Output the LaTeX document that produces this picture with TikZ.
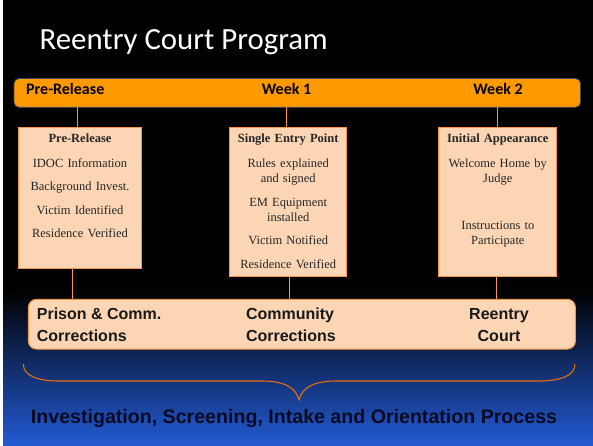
\documentclass[tikz,border=0pt]{standalone}
\usepackage{fontspec}
\setmainfont{Liberation Serif}
\setsansfont{Liberation Sans}
\newfontfamily\calibri{Carlito}
\usepackage{tikz}
\usetikzlibrary{positioning}
\definecolor{barorange}{RGB}{255,153,0}
\definecolor{peach}{RGB}{252,213,180}
\definecolor{edgeorange}{RGB}{247,150,70}
\definecolor{braceorange}{RGB}{228,108,10}
\definecolor{slideblue}{RGB}{35,90,210}
\definecolor{midblue}{RGB}{16,42,110}
\definecolor{barline}{RGB}{60,75,100}
\definecolor{inkblue}{RGB}{10,10,35}

\begin{document}
\begin{tikzpicture}[x=1pt, y=-1pt,
timeline/.style={rectangle, rounded corners=5pt, draw=barline, fill=barorange, line width=0.8pt, minimum width=566.5pt, minimum height=28.8pt, inner sep=0pt},
weeklabel/.style={font=\calibri\bfseries\fontsize{16}{19}\selectfont, text=black, inner sep=0pt},
card/.style={rectangle, draw=edgeorange, fill=peach, line width=1pt, anchor=north, inner xsep=2pt, inner ysep=0pt, align=center, text=black!85, font=\fontsize{12.5}{15}\selectfont},
link/.style={draw=edgeorange, line width=0.9pt},
agency/.style={font=\sffamily\bfseries\fontsize{16}{22.4}\selectfont, text=black!90, inner sep=0pt, anchor=base west, align=left},
brace/.style={draw=braceorange, line width=1.1pt}
]
\useasboundingbox (0,0) rectangle (593,445);

%Slide background
\fill[white] (0,0) rectangle (593,445);
\fill[black] (3,0) rectangle (593,290);
\shade[top color=black, middle color=midblue, bottom color=slideblue] (3,289.5) rectangle (593,445);

\node[anchor=base west, text=white, font=\calibri\fontsize{30.8}{36}\selectfont, inner sep=0pt] (title) at (39.5,49.3) {Reentry Court Program};

%Timeline
\node[timeline] (bar) at (297.3,92.9) {};
\node[weeklabel, anchor=base west] (prerel) at (26,94.5) {Pre-Release};
\node[weeklabel, anchor=base] (week1) at (286.5,94.5) {Week 1};
\node[weeklabel, anchor=base] (week2) at (498,94.5) {Week 2};

%Steps
\node[card, text width=118.4pt, text height=15.5pt, text depth=126.1pt] (pre) at (80,126.7) {\textbf{Pre-Release}\\[9.4pt]
IDOC Information\\[8.5pt] Background Invest.\\[8.5pt] Victim Identified\\[8.5pt] Residence Verified};
\node[card, text width=113.3pt, text height=15.5pt, text depth=133.8pt] (entry) at (288.2,126.7) {\textbf{Single Entry Point}\\[9.4pt]
Rules explained\\and signed\\[9pt] EM Equipment\\installed\\[8.3pt] Victim Notified\\[8.7pt] Residence Verified};
\node[card, text width=114pt, text height=15.5pt, text depth=133.8pt] (court) at (497.8,126.7) {\textbf{Initial Appearance}\\[9.4pt]
Welcome Home by\\Judge\\[32.7pt] Instructions to\\Participate};

%Agencies
\node[rectangle, rounded corners=8pt, draw=edgeorange, fill=peach, line width=1pt, minimum width=547pt, minimum height=49.7pt, inner sep=0pt] (base) at (301.9,324.2) {};
\node[agency] (prison) at (36.7,341.7) {Prison \& Comm.\\Corrections};
\node[agency] (community) at (245.8,341.7) {Community\\Corrections};
\node[agency, anchor=base, align=center] (reentry) at (499,341.7) {Reentry\\Court};

%Connections to timeline
\draw[link] ([xshift=-2.3pt]pre.north) -- ++(0,-19.4);
\draw[link] ([xshift=-2.2pt]entry.north) -- ++(0,-19.4);
\draw[link] (court.north) -- ++(0,-19.4);

%Connections to agencies
\draw[link] ([xshift=-7.3pt]pre.south) -- ++(0,31);
\draw[link] ([xshift=1.1pt]entry.south) -- ++(0,23.3);
\draw[link] ([xshift=-1.1pt]court.south) -- ++(0,23.3);

%Brace
\draw[brace] (23.3,364) .. controls (23.3,376) and (38,381) .. (60,381) -- (262,381)
  .. controls (285,381) and (296,388) .. (299,400)
  .. controls (302,388) and (313,381) .. (336,381) -- (538,381)
  .. controls (560,381) and (575,376) .. (575,364);

\node[anchor=base, font=\sffamily\bfseries\fontsize{19.6}{23}\selectfont, text=inkblue, inner sep=0pt] (process) at (294,423.3) {Investigation, Screening, Intake and Orientation Process};
\end{tikzpicture}
\end{document}
